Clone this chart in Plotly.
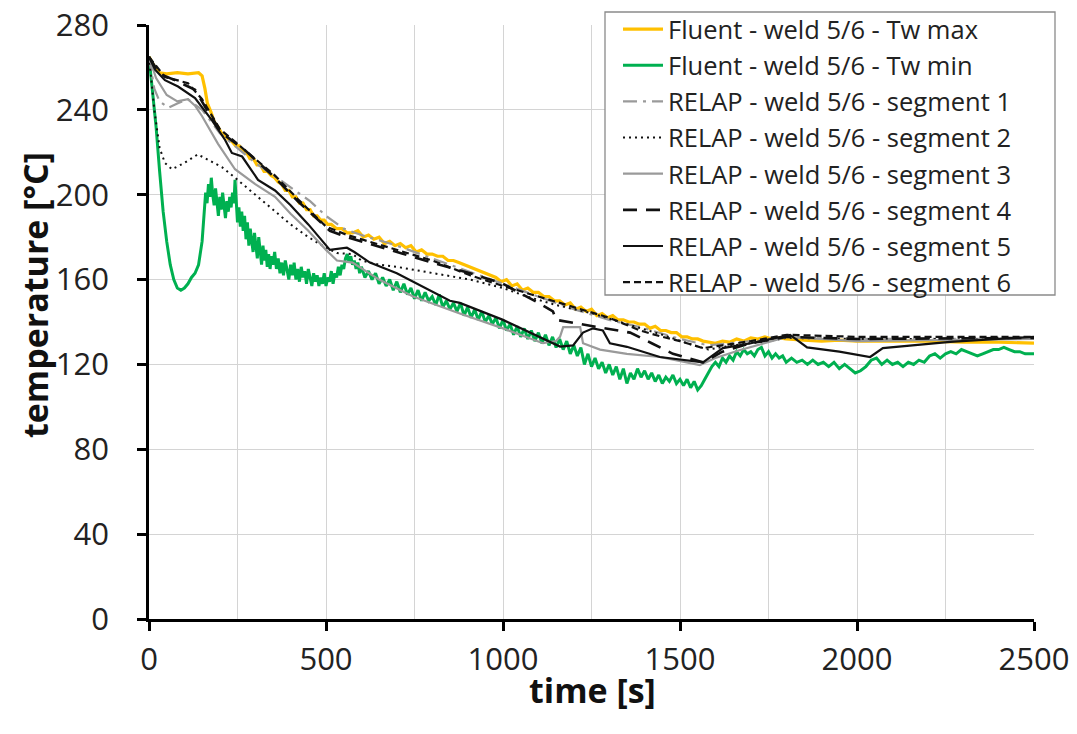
import plotly.graph_objects as go

# ---- Fluent - Tw max (yellow) ----
tmax_t = [0, 10, 20, 30, 50, 80, 110, 140, 150, 158, 165, 175, 185, 195, 205, 215, 225, 235, 245, 255,
          265, 275, 285, 295, 305, 315, 325, 335, 345, 355, 365, 375, 385, 395, 405, 415, 425, 435, 445, 455,
          465, 475, 485, 495, 505, 515, 530, 545, 560, 575, 590, 605, 620, 635, 650, 665, 680, 695, 710, 725,
          740, 755, 770, 785, 800, 815, 830, 845, 860, 875, 890, 905, 920, 935, 950, 965, 980, 995, 1010, 1025,
          1040, 1055, 1070, 1085, 1100, 1115, 1130, 1145, 1160, 1175, 1190, 1205, 1220, 1235, 1250, 1265, 1280,
          1295, 1310, 1325, 1340, 1355, 1370, 1385, 1400, 1415, 1430, 1445, 1460, 1475, 1490, 1505, 1520, 1535,
          1550, 1565, 1580, 1600, 1620, 1640, 1660, 1680, 1700, 1720, 1740, 1760, 1780, 1800, 1850, 1900, 1950,
          2000, 2100, 2200, 2300, 2400, 2500]
tmax_v = [265, 262, 259, 257.5, 257, 257.5, 257, 257.5, 256, 250, 243, 239, 234, 232, 229, 228, 226, 225, 223, 223,
          221, 220, 217, 217, 214, 214, 211, 211, 209, 208, 206, 205, 202, 202, 199, 199, 196, 196, 193, 193,
          190, 190, 188, 188, 186, 186, 184, 184, 182, 182, 183, 180, 181, 179, 180, 177, 178, 176, 177, 175,
          176, 173, 174, 172, 172, 171, 171, 169, 169, 168, 167, 166, 165, 164, 163, 162, 161, 159, 160, 157,
          158, 155, 156, 154, 154, 152, 152, 150, 150, 148, 149, 146, 147, 145, 146, 143, 144, 142, 143, 141,
          141, 140, 140, 139, 139, 137, 138, 136, 136, 135, 135, 133, 133, 132, 132, 131, 130.5, 130, 131, 130.5,
          132, 131, 132.5, 132, 133, 132, 132.5, 132, 131.5, 131, 131.5, 131, 131, 131, 130.5, 130.5, 130, 130]

# ---- Fluent - Tw min (green) ----
tmin_t = [0, 10, 20, 30, 40, 50, 60, 70, 80, 90, 100, 110, 120, 130, 140,
          150, 155, 160, 164, 168, 172, 176, 180, 184, 188, 192, 196, 200, 204, 208, 212, 216, 220, 224, 228,
          232, 236, 240, 243, 246, 250, 254, 258, 262, 266, 270, 274, 278, 282, 286, 290, 294, 298, 302, 306,
          310, 314, 318, 322, 326, 330, 334, 338, 342, 346, 350, 355, 360, 365, 370, 375, 380, 385, 390, 395,
          400, 405, 410, 415, 420, 425, 430, 435, 440, 445, 450, 455, 460, 465, 470, 475, 480, 485, 490, 495,
          500, 505, 510, 515, 520, 525, 530, 535, 540, 545, 550, 555, 560, 565, 570, 575, 580, 585, 590, 595,
          600, 610, 620, 630, 640, 650, 660, 670, 680, 690, 700, 710, 720, 730, 740, 750, 760, 770, 780, 790,
          800, 810, 820, 830, 840, 850, 860, 870, 880, 890, 900, 910, 920, 930, 940, 950, 960, 970, 980, 990,
          1000, 1010, 1020, 1030, 1040, 1050, 1060, 1070, 1080, 1090, 1100, 1110, 1120, 1130, 1140, 1150, 1160,
          1170, 1180, 1190, 1200, 1210, 1220, 1230, 1240, 1250, 1260, 1270, 1280, 1290, 1300, 1310, 1320, 1330,
          1340, 1350, 1360, 1370, 1380, 1390, 1400, 1410, 1420, 1430, 1440, 1450, 1460, 1470, 1480, 1490, 1500,
          1510, 1520, 1530, 1540, 1550, 1560, 1570, 1580, 1590, 1600, 1610, 1620, 1630, 1640, 1650, 1660, 1670,
          1680, 1690, 1700, 1710, 1720, 1730, 1740, 1750, 1760, 1770, 1780, 1790, 1800, 1815, 1830, 1845, 1860,
          1875, 1890, 1905, 1920, 1935, 1950, 1965, 1980, 1995, 2010, 2025, 2040, 2055, 2070, 2085, 2100, 2115,
          2130, 2145, 2160, 2175, 2190, 2205, 2220, 2235, 2250, 2265, 2280, 2295, 2310, 2325, 2340, 2355, 2370,
          2385, 2400, 2415, 2430, 2445, 2460, 2475, 2490, 2500]
tmin_v = [265, 250, 232, 211, 192, 178, 167, 160, 156, 155, 156, 158, 161, 163, 167,
          178, 192, 201, 196, 205, 199, 208, 200, 195, 203, 197, 190, 199, 193, 201, 194, 189, 197, 192, 199,
          194, 201, 196, 207, 197, 187, 194, 185, 192, 183, 190, 179, 187, 176, 184, 178, 173, 182, 175, 170,
          180, 172, 167, 176, 169, 174, 166, 172, 165, 171, 167, 173, 165, 170, 163, 168, 162, 169, 164, 160,
          167, 162, 168, 160, 165, 159, 166, 161, 164, 158, 165, 160, 157, 163, 159, 162, 157, 161, 158, 163,
          157, 161, 159, 164, 158, 163, 161, 166, 162, 167, 165, 170, 172, 168, 171, 167, 169, 165, 168, 163,
          166, 161, 164, 160, 163, 158, 161, 157, 160, 155, 159, 154, 158, 153, 156, 151, 155, 150, 154, 150,
          152, 148, 153, 147, 150, 146, 149, 145, 149, 143, 147, 142, 146, 141, 145, 140, 143, 139, 142, 137,
          141, 136, 139, 134, 138, 133, 137, 132, 136, 131, 135, 130, 134, 129, 133, 128, 132,
          127, 131, 125, 129, 124, 128, 120, 125, 119, 123, 118, 121, 116, 120, 115, 119, 113,
          118, 111, 116, 113, 118, 114, 117, 113, 116, 112, 115, 111, 114, 112, 115, 111, 113,
          110, 113, 109, 112, 108, 110, 113, 116, 119, 121, 119, 123, 121, 124, 122, 126, 124,
          127, 125, 126, 124, 127, 128, 124, 126, 123, 125, 123, 124, 121, 123, 121, 122, 120,
          122, 120, 121, 119, 121, 118, 120, 118, 116, 117, 119, 122, 123, 120, 122, 120, 121,
          119, 121, 120, 122, 121, 124, 125, 123, 125, 126, 125, 127, 126, 125, 124, 125, 126,
          127, 127, 128, 127, 126, 126, 125, 125, 125]

# ---- RELAP segments ----
s1_t = [0, 15, 30, 55, 80, 110, 150, 200, 250, 300, 370, 455, 500, 550, 600, 700, 800, 900, 1000, 1100,
        1200, 1300, 1400, 1500, 1580, 1700, 1800, 2000, 2200, 2500]
s1_v = [265, 250, 244, 241, 243, 245, 240, 229, 222, 215, 207, 197, 190, 184, 181, 176, 170, 164, 158, 152,
        146, 141, 137, 132, 129, 131, 133, 132, 132, 132]

s2_t = [0, 15, 30, 45, 65, 100, 138, 170, 206, 243, 300, 347, 400, 450, 500, 531, 575, 600, 650, 700,
        800, 907, 1000, 1068, 1150, 1254, 1350, 1450, 1520, 1580, 1650, 1750, 1800, 2000, 2500]
s2_v = [265, 240, 222, 215, 212, 215, 219, 216, 213, 208, 200, 193, 186, 180, 175, 172.5, 172, 169, 167, 166,
        163, 160, 156, 152, 148, 144, 139, 134, 130, 127, 129, 131, 132.5, 132, 132]

s3_t = [0, 20, 50, 80, 110, 130, 150, 195, 243, 300, 356, 400, 450, 500, 531, 575, 650, 746, 878, 1000,
        1113, 1150, 1161, 1170, 1218, 1226, 1274, 1350, 1443, 1556, 1600, 1670, 1802, 2000, 2200, 2500]
s3_v = [265, 255, 247, 244, 245, 242, 237, 224, 212, 205, 199, 191, 183, 174, 169, 168, 160, 152, 144, 137,
        130, 131, 133, 137.6, 137.6, 130, 127, 125, 123.5, 119.7, 123, 126.8, 133, 131, 131.5, 132]

s4_t = [0, 30, 73, 100, 130, 160, 206, 271, 356, 420, 511, 560, 600, 700, 800, 907, 1000, 1100, 1141, 1150,
        1250, 1359, 1420, 1480, 1565, 1620, 1700, 1800, 2000, 2500]
s4_v = [265, 257, 254, 252, 249.5, 241, 229, 221, 208, 197, 183, 180, 178, 173, 168, 163, 158, 149, 145, 141,
        138, 135, 130, 125, 121, 126, 130, 133, 132, 132.5]

s5_t = [0, 17, 45, 82, 130, 178, 215, 234, 263, 308, 356, 400, 450, 511, 559, 580, 624, 700, 850, 878,
        1000, 1100, 1161, 1198, 1226, 1254, 1282, 1302, 1350, 1443, 1565, 1621, 1700, 1811, 1859, 1950, 2037,
        2073, 2150, 2263, 2400, 2500]
s5_v = [265, 259, 254, 251, 245.6, 235, 225.8, 219.7, 218, 207, 202, 195, 186, 174, 175, 173, 168, 163, 150, 149,
        141, 133, 128.4, 129, 135, 137, 136, 130, 128.3, 123.5, 121, 127.7, 130, 133.9, 128, 126, 123.5,
        127.7, 129, 130.6, 132, 133]

s6_t = [0, 45, 110, 150, 200, 270, 356, 420, 500, 560, 600, 700, 800, 907, 1000, 1100, 1200, 1300, 1387, 1450,
        1500, 1565, 1620, 1700, 1802, 2000, 2500]
s6_v = [265, 255.5, 252.6, 245, 231, 221, 209, 198, 185, 181, 179, 174, 169, 162, 157, 152, 147, 142, 136, 133,
        131, 127.7, 129, 131, 134, 133, 133]

names = ["Fluent - weld 5/6 - Tw max", "Fluent - weld 5/6 - Tw min",
         "RELAP - weld 5/6 - segment 1", "RELAP - weld 5/6 - segment 2",
         "RELAP - weld 5/6 - segment 3", "RELAP - weld 5/6 - segment 4",
         "RELAP - weld 5/6 - segment 5", "RELAP - weld 5/6 - segment 6"]

series = [
    (tmax_t, tmax_v, dict(color="#FFC000", width=3.2, dash="solid")),
    (tmin_t, tmin_v, dict(color="#00B050", width=3.0, dash="solid")),
    (s1_t, s1_v, dict(color="#9a9a9a", width=2.2, dash="14px,6px,3px,6px")),
    (s2_t, s2_v, dict(color="#111111", width=2.0, dash="2px,4px")),
    (s3_t, s3_v, dict(color="#9a9a9a", width=2.2, dash="solid")),
    (s4_t, s4_v, dict(color="#111111", width=2.6, dash="14px,9px")),
    (s5_t, s5_v, dict(color="#111111", width=2.2, dash="solid")),
    (s6_t, s6_v, dict(color="#111111", width=2.2, dash="7px,4px")),
]

fig = go.Figure()
for (t, v, ln), nm in zip(series, names):
    fig.add_trace(go.Scatter(x=t, y=v, mode="lines", name=nm, line=ln))

FONT = "Open Sans"
W, H = 1077, 734
L, R, T, B = 149, 43, 25, 115
PW, PH = W - L - R, H - T - B


def px_x(p):
    return (p - L) / PW


def px_y(p):
    return (H - B - p) / PH


fig.update_layout(
    width=W, height=H,
    margin=dict(l=L, r=R, t=T, b=B, autoexpand=False),
    paper_bgcolor="white", plot_bgcolor="white",
    font=dict(family=FONT, color="#222222"),
    showlegend=True,
    legend=dict(xref="container", yref="container",
                x=618 / W, xanchor="left", y=1 - 6 / H, yanchor="top",
                bgcolor="rgba(0,0,0,0)", borderwidth=0,
                font=dict(family=FONT, size=25.5, color="#222222"),
                tracegroupgap=0, itemwidth=40),
    shapes=[dict(type="rect", xref="paper", yref="paper",
                 x0=px_x(605), x1=px_x(1055), y0=px_y(295), y1=px_y(12),
                 fillcolor="white", line=dict(color="#8a8a8a", width=1.3), layer="above")],
    annotations=[
        dict(text="<b>temperature [°C]</b>", xref="paper", yref="paper",
             x=px_x(35), y=px_y(295), textangle=-90, showarrow=False,
             xanchor="center", yanchor="middle",
             font=dict(family=FONT, size=34, color="#111111")),
        dict(text="<b>time [s]</b>", xref="paper", yref="paper",
             x=px_x(592), y=px_y(690), showarrow=False,
             xanchor="center", yanchor="middle",
             font=dict(family=FONT, size=34, color="#111111")),
    ],
    xaxis=dict(range=[0, 2500], dtick=500, tick0=0, automargin=False,
               showline=True, linecolor="black", linewidth=2.5,
               ticks="outside", ticklen=9, tickwidth=2.5, tickcolor="black",
               showgrid=True, gridcolor="#d4d4d4", gridwidth=1,
               minor=dict(dtick=250, showgrid=True, gridcolor="#d4d4d4", gridwidth=1, ticks=""),
               zeroline=False, ticklabelstandoff=2,
               tickfont=dict(family=FONT, size=31, color="#222222")),
    yaxis=dict(range=[0, 280], dtick=40, tick0=0, automargin=False,
               showline=True, linecolor="black", linewidth=2.5,
               ticks="outside", ticklen=9, tickwidth=2.5, tickcolor="black",
               showgrid=True, gridcolor="#d4d4d4", gridwidth=1,
               zeroline=False, ticklabelstandoff=22,
               tickfont=dict(family=FONT, size=31, color="#222222")),
)

fig.write_html("out.html")
